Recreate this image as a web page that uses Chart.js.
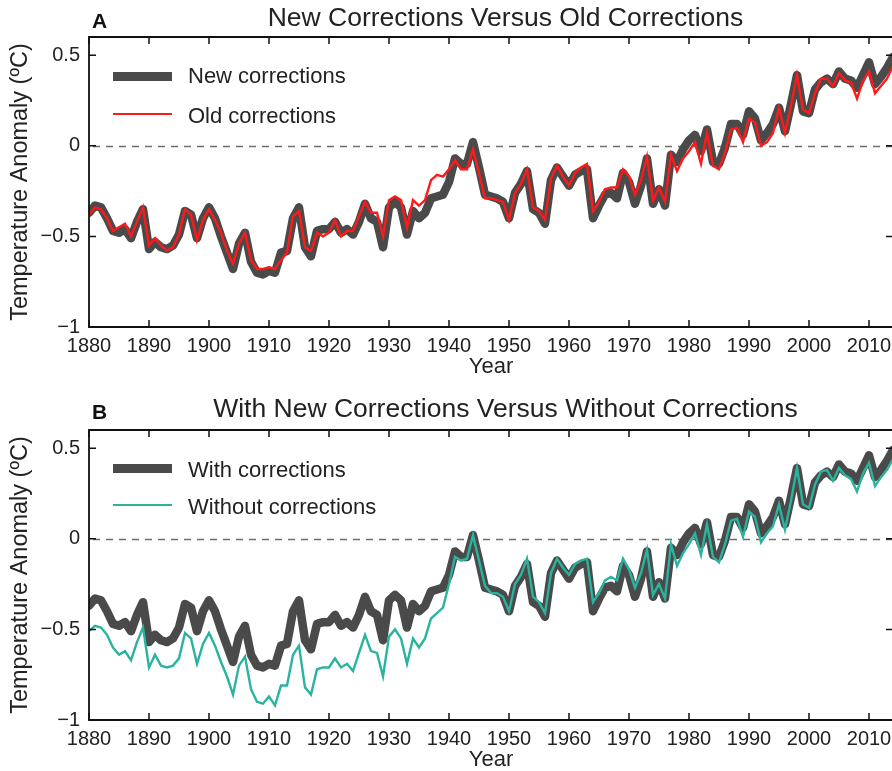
<!DOCTYPE html>
<html>
<head>
<meta charset="utf-8">
<script src="https://cdn.jsdelivr.net/npm/chart.js@4.4.1/dist/chart.umd.min.js"></script>
<style>
  html, body { margin:0; padding:0; background:#fff; }
  body { width:892px; height:771px; overflow:hidden; position:relative; font-family:"Liberation Sans", Arial, sans-serif; color:#222; }
  .panel { position:absolute; left:0; width:896px; height:378px; }
  .title { position:absolute; left:0; width:1011px; text-align:center; font-size:26.5px; line-height:26.5px; white-space:nowrap; color:#222; }
  .letter { position:absolute; left:92px; font-size:21px; line-height:21px; font-weight:bold; color:#111; }
  .legtext { position:absolute; left:188px; font-size:22px; line-height:22px; white-space:nowrap; color:#222; }
  .legline { position:absolute; left:113px; width:59px; }
</style>
</head>
<body>
<div class="panel" style="top:0"><canvas id="chartA" width="896" height="378"></canvas></div>
<div class="panel" style="top:393px"><canvas id="chartB" width="896" height="378"></canvas></div>

<div class="letter" style="top:10px">A</div>
<div class="title" style="top:4px">New Corrections Versus Old Corrections</div>
<div class="legline" style="top:71.5px;height:9px;background:#4a4a4a"></div>
<div class="legtext" style="top:64.5px">New corrections</div>
<div class="legline" style="top:112.7px;height:2.6px;background:#ff1a1a"></div>
<div class="legtext" style="top:104.5px">Old corrections</div>

<div class="letter" style="top:401px">B</div>
<div class="title" style="top:395px">With New Corrections Versus Without Corrections</div>
<div class="legline" style="top:463.5px;height:9px;background:#4a4a4a"></div>
<div class="legtext" style="top:458.5px">With corrections</div>
<div class="legline" style="top:503.5px;height:2.6px;background:#2ab39f"></div>
<div class="legtext" style="top:495.5px">Without corrections</div>

<script>
// ---------- DATA ----------
const FIRST_YEAR = 1880;
const LAST_YEAR = 2014;
const years = [];
for (let yr = FIRST_YEAR; yr <= LAST_YEAR; yr++) years.push(yr);

const xTickYears = [1880, 1890, 1900, 1910, 1920, 1930, 1940, 1950, 1960, 1970, 1980, 1990, 2000, 2010];
const yTickValues = [-1, -0.5, 0, 0.5];

// New corrections (== "With corrections"), °C
const newCorrections = [
  -0.37,-0.33,-0.34,-0.40,-0.47,-0.48,-0.46,-0.51,-0.42,-0.35, // 1880-1889
  -0.57,-0.53,-0.56,-0.57,-0.55,-0.49,-0.36,-0.38,-0.51,-0.40, // 1890-1899
  -0.34,-0.40,-0.50,-0.59,-0.68,-0.54,-0.48,-0.64,-0.70,-0.71, // 1900-1909
  -0.69,-0.70,-0.59,-0.58,-0.40,-0.34,-0.56,-0.61,-0.47,-0.46, // 1910-1919
  -0.46,-0.42,-0.48,-0.46,-0.49,-0.42,-0.32,-0.40,-0.42,-0.56, // 1920-1929
  -0.34,-0.31,-0.34,-0.49,-0.36,-0.40,-0.37,-0.29,-0.28,-0.27, // 1930-1939
  -0.20,-0.07,-0.10,-0.10, 0.02,-0.12,-0.27,-0.28,-0.29,-0.31, // 1940-1949
  -0.40,-0.26,-0.21,-0.14,-0.35,-0.37,-0.43,-0.19,-0.12,-0.17, // 1950-1959
  -0.22,-0.16,-0.14,-0.13,-0.40,-0.33,-0.27,-0.26,-0.29,-0.15, // 1960-1969
  -0.20,-0.32,-0.22,-0.07,-0.32,-0.24,-0.33,-0.05,-0.09,-0.02, // 1970-1979
   0.03, 0.06,-0.03, 0.09,-0.09,-0.10,-0.01, 0.12, 0.12, 0.06, // 1980-1989
   0.19, 0.15, 0.03, 0.07, 0.12, 0.21, 0.08, 0.23, 0.39, 0.19, // 1990-1999
   0.18, 0.31, 0.35, 0.37, 0.34, 0.41, 0.37, 0.36, 0.32, 0.39, // 2000-2009
   0.46, 0.34, 0.38, 0.43, 0.49                                // 2010-2014
];

// Old corrections, °C
const oldCorrections = [
  -0.38,-0.34,-0.35,-0.40,-0.47,-0.45,-0.43,-0.50,-0.42,-0.34,
  -0.55,-0.51,-0.55,-0.58,-0.56,-0.49,-0.35,-0.38,-0.52,-0.41,
  -0.35,-0.41,-0.48,-0.58,-0.65,-0.54,-0.48,-0.63,-0.68,-0.68,
  -0.67,-0.68,-0.63,-0.59,-0.39,-0.36,-0.56,-0.58,-0.48,-0.50,
  -0.48,-0.41,-0.50,-0.47,-0.47,-0.39,-0.31,-0.37,-0.37,-0.50,
  -0.30,-0.28,-0.30,-0.45,-0.30,-0.33,-0.30,-0.19,-0.16,-0.17,
  -0.13,-0.08,-0.13,-0.13,-0.02,-0.15,-0.29,-0.29,-0.30,-0.31,
  -0.41,-0.26,-0.21,-0.13,-0.34,-0.36,-0.41,-0.18,-0.11,-0.17,
  -0.22,-0.15,-0.12,-0.10,-0.36,-0.31,-0.24,-0.23,-0.23,-0.13,
  -0.17,-0.27,-0.19,-0.06,-0.30,-0.23,-0.31,-0.05,-0.14,-0.07,
  -0.03, 0.02,-0.10, 0.07,-0.11,-0.13,-0.04, 0.09, 0.10, 0.02,
   0.15, 0.13, 0.00, 0.02, 0.07, 0.21, 0.07, 0.22, 0.39, 0.20,
   0.18, 0.29, 0.37, 0.37, 0.33, 0.40, 0.36, 0.35, 0.26, 0.36,
   0.41, 0.29, 0.33, 0.37, 0.44
];

// Without corrections, °C
const withoutCorrections = [
  -0.51,-0.48,-0.49,-0.53,-0.60,-0.64,-0.62,-0.67,-0.57,-0.49,
  -0.71,-0.64,-0.70,-0.71,-0.70,-0.66,-0.52,-0.55,-0.69,-0.58,
  -0.52,-0.59,-0.68,-0.76,-0.86,-0.70,-0.65,-0.83,-0.90,-0.91,
  -0.87,-0.92,-0.81,-0.81,-0.64,-0.59,-0.82,-0.86,-0.72,-0.71,
  -0.71,-0.66,-0.71,-0.69,-0.73,-0.63,-0.53,-0.62,-0.63,-0.76,
  -0.54,-0.50,-0.55,-0.69,-0.55,-0.60,-0.55,-0.44,-0.41,-0.38,
  -0.25,-0.10,-0.12,-0.11, 0.02,-0.12,-0.26,-0.30,-0.30,-0.32,
  -0.40,-0.25,-0.20,-0.11,-0.32,-0.35,-0.41,-0.19,-0.11,-0.16,
  -0.20,-0.14,-0.12,-0.11,-0.35,-0.30,-0.23,-0.21,-0.23,-0.11,
  -0.17,-0.27,-0.19,-0.06,-0.31,-0.25,-0.33,-0.03,-0.15,-0.08,
  -0.03, 0.03,-0.09, 0.08,-0.10,-0.13,-0.03, 0.10, 0.11, 0.01,
   0.15, 0.12,-0.02, 0.03, 0.07, 0.19, 0.05, 0.21, 0.39, 0.19,
   0.17, 0.30, 0.37, 0.38, 0.32, 0.39, 0.35, 0.33, 0.26, 0.36,
   0.42, 0.29, 0.34, 0.38, 0.44
];

// ---------- CHART SETUP ----------
const FONT = '"Liberation Sans", Arial, sans-serif';
const TEXT = '#222';

const toPoints = vals => years.map((yr, i) => ({ x: yr, y: vals[i] }));

const frameAndTicks = {
  id: 'frameAndTicks',
  beforeDatasetsDraw(chart) {
    const { ctx, chartArea: a, scales: { y } } = chart;
    const y0 = Math.round(y.getPixelForValue(0)) + 0.5;
    ctx.save();
    ctx.strokeStyle = '#6e6e6e';
    ctx.lineWidth = 1.6;
    ctx.setLineDash([7, 6]);
    ctx.beginPath();
    ctx.moveTo(a.left + 4, y0);
    ctx.lineTo(a.right, y0);
    ctx.stroke();
    ctx.restore();
  },
  afterDatasetsDraw(chart) {
    const { ctx, chartArea: a, scales: { x, y } } = chart;
    const L = 7;
    ctx.save();
    ctx.strokeStyle = '#111';
    ctx.lineWidth = 1.8;
    ctx.beginPath();
    ctx.rect(a.left, a.top, a.right - a.left, a.bottom - a.top);
    ctx.stroke();
    ctx.lineWidth = 1.5;
    ctx.beginPath();
    xTickYears.forEach(v => {
      const px = x.getPixelForValue(v);
      ctx.moveTo(px, a.bottom); ctx.lineTo(px, a.bottom - L);
      ctx.moveTo(px, a.top); ctx.lineTo(px, a.top + L);
    });
    yTickValues.forEach(v => {
      const py = y.getPixelForValue(v);
      ctx.moveTo(a.left, py); ctx.lineTo(a.left + L, py);
      ctx.moveTo(a.right, py); ctx.lineTo(a.right - L, py);
    });
    ctx.stroke();
    ctx.restore();
  }
};

function makeChart(canvasId, thinValues, thinColor) {
  return new Chart(document.getElementById(canvasId), {
    type: 'line',
    data: {
      datasets: [
        {
          data: toPoints(thinValues),
          borderColor: thinColor,
          borderWidth: 2.4,
          pointRadius: 0,
          tension: 0,
          order: 0
        },
        {
          data: toPoints(newCorrections),
          borderColor: '#4a4a4a',
          borderWidth: 8.5,
          pointRadius: 0,
          tension: 0,
          borderJoinStyle: 'round',
          borderCapStyle: 'round',
          order: 1
        }
      ]
    },
    options: {
      responsive: false,
      devicePixelRatio: 1,
      animation: false,
      layout: { padding: { top: 37, right: 3, left: 0, bottom: 0 } },
      plugins: { legend: { display: false }, tooltip: { enabled: false }, title: { display: false } },
      scales: {
        x: {
          type: 'linear',
          min: FIRST_YEAR,
          max: LAST_YEAR,
          afterBuildTicks: s => { s.ticks = xTickYears.map(v => ({ value: v })); },
          afterFit: s => { s.height = 51; s.paddingLeft = 0; s.paddingRight = 0; },
          grid: { display: false, drawTicks: false },
          border: { display: false },
          ticks: {
            padding: 7,
            maxRotation: 0,
            autoSkip: false,
            color: TEXT,
            font: { family: FONT, size: 20 },
            callback: v => String(v)
          },
          title: {
            display: true,
            text: 'Year',
            color: TEXT,
            font: { family: FONT, size: 22, lineHeight: 1 },
            padding: { top: 0, bottom: 0 }
          }
        },
        y: {
          min: -1,
          max: 0.6,
          afterBuildTicks: s => { s.ticks = yTickValues.map(v => ({ value: v })); },
          afterFit: s => { s.width = 89; s.paddingTop = 0; s.paddingBottom = 0; },
          grid: { display: false, drawTicks: false },
          border: { display: false },
          ticks: {
            padding: 9,
            color: TEXT,
            font: { family: FONT, size: 20 },
            callback: v => (v === 0 ? '0' : String(v).replace('-', '\u2212'))
          },
          title: {
            display: true,
            text: 'Temperature Anomaly (ºC)',
            color: TEXT,
            font: { family: FONT, size: 23.5, lineHeight: 1 },
            padding: { top: 9, bottom: 0 }
          }
        }
      }
    },
    plugins: [frameAndTicks]
  });
}

makeChart('chartA', oldCorrections, '#ff1a1a');
makeChart('chartB', withoutCorrections, '#2ab39f');
</script>
</body>
</html>
